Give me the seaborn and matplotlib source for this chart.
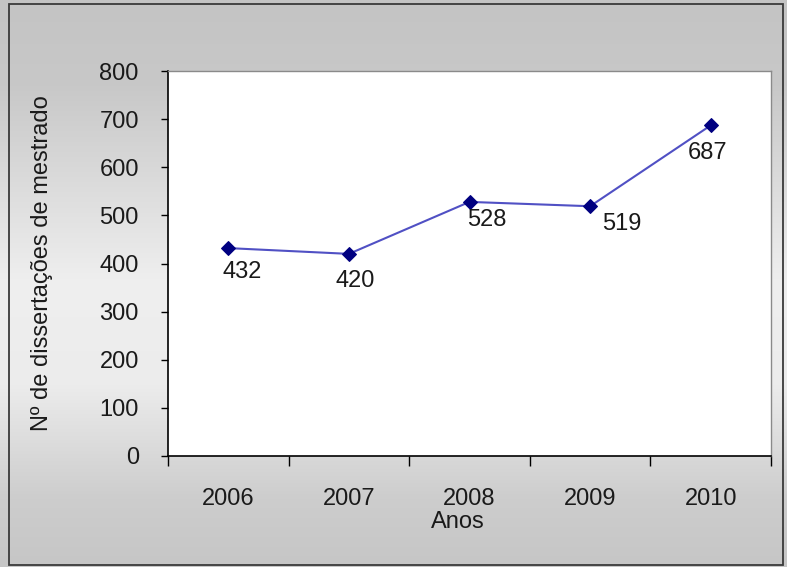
import numpy as np
import matplotlib
matplotlib.use("Agg")
import matplotlib.pyplot as plt
from matplotlib.patches import Rectangle
from matplotlib.colors import LinearSegmentedColormap
import seaborn as sns

# Master's dissertations per year
years = ["2006", "2007", "2008", "2009", "2010"]
dissertations = [432, 420, 528, 519, 687]
y_ticks = [0, 100, 200, 300, 400, 500, 600, 700, 800]

# label offsets (pixels) relative to each marker
label_dx = [14, 6, 17, 32, -3]
label_dy = [-24, -27, -18, -18, -28]

sns.set_theme(style="white")
plt.rcParams["font.family"] = ["Liberation Sans", "DejaVu Sans"]

W, H, DPI = 787, 567, 100
fig = plt.figure(figsize=(W / DPI, H / DPI), dpi=DPI)

# soft vertical gray gradient behind everything
bg = fig.add_axes([0, 0, 1, 1], zorder=-10)
cmap = LinearSegmentedColormap.from_list(
    "bg", [(0.0, "#c4c4c4"), (0.15, "#c8c8c8"), (0.5, "#efefef"),
           (0.68, "#ececec"), (0.88, "#cdcdcd"), (1.0, "#c6c6c6")])
grad = np.linspace(0, 1, 256).reshape(-1, 1)
bg.imshow(grad, aspect="auto", cmap=cmap, extent=[0, 1, 0, 1], origin="upper")
bg.set_xlim(0, 1)
bg.set_ylim(0, 1)
bg.axis("off")
bg.add_patch(Rectangle((9 / W, 1 - 565 / H), (783 - 9) / W, (565 - 4) / H,
                       fill=False, edgecolor="#3a3a3a", linewidth=1.3,
                       transform=bg.transAxes))

left, right, top, bottom = 168, 771, 71, 456
ax = fig.add_axes([left / W, 1 - bottom / H, (right - left) / W, (bottom - top) / H])
ax.set_facecolor("white")

pos = np.arange(len(years))
sns.lineplot(x=pos, y=dissertations, ax=ax, color="#5050c4", linewidth=1.5,
             marker="D", markersize=7.5, markerfacecolor="#000080",
             markeredgecolor="#000080", zorder=3)

for x, v, dx, dy in zip(pos, dissertations, label_dx, label_dy):
    ax.annotate(str(v), (x, v), xytext=(dx, dy), textcoords="offset pixels",
                ha="center", va="center", fontsize=17, color="#1a1a1a")

ax.set_xlim(-0.5, len(years) - 0.5)
ax.set_ylim(0, 800)
ax.set_yticks(y_ticks)
ax.set_yticklabels([str(t) for t in y_ticks], fontsize=17, color="#1a1a1a")
ax.set_xticks(np.arange(-0.5, len(years), 1.0))
ax.set_xticklabels([])
ax.set_xticks(pos, minor=True)
ax.set_xticklabels(years, minor=True, fontsize=17, color="#1a1a1a")

ax.tick_params(axis="y", which="major", direction="out", length=5, width=1,
               color="black", pad=16, left=True)
ax.tick_params(axis="x", which="major", direction="out", length=7, width=1,
               color="black", bottom=True)
ax.tick_params(axis="x", which="minor", length=0, pad=23)

for side in ("left", "bottom"):
    ax.spines[side].set_color("black")
    ax.spines[side].set_linewidth(1.2)
for side in ("top", "right"):
    ax.spines[side].set_color("#8a8a8a")
    ax.spines[side].set_linewidth(1.0)

ax.set_xlabel("Anos", fontsize=17, color="#1a1a1a", va="center")
ax.xaxis.set_label_coords((458 - left) / (right - left), (bottom - 522) / (bottom - top))
ax.set_ylabel("Nº de dissertações de mestrado", fontsize=17, color="#1a1a1a",
              va="center")
ax.yaxis.set_label_coords((42 - left) / (right - left), 0.5)

fig.savefig("out.png", dpi=DPI)
